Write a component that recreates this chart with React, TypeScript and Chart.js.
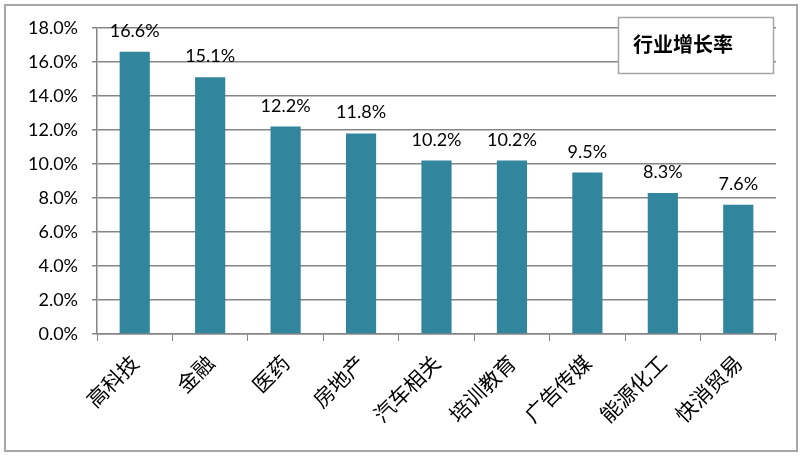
import React, { useEffect, useRef } from "react";
import { Chart, registerables } from "chart.js";

Chart.register(...registerables);

const categories = ["高科技", "金融", "医药", "房地产", "汽车相关", "培训教育", "广告传媒", "能源化工", "快消贸易"];
const growthRates = [16.6, 15.1, 12.2, 11.8, 10.2, 10.2, 9.5, 8.3, 7.6];
const seriesName = "行业增长率";
const yMin = 0;
const yMax = 18;
const yStep = 2;

const BAR_COLOR = "#31859C";
const AXIS_COLOR = "#868686";

const decorPlugin = {
  id: "decor",
  afterDatasetsDraw(chart: any) {
    const ctx = chart.ctx;
    const meta = chart.getDatasetMeta(0);
    ctx.save();
    ctx.fillStyle = "#000";
    ctx.font = "18px Lato";
    ctx.textAlign = "center";
    ctx.textBaseline = "alphabetic";
    meta.data.forEach((bar: any, i: number) => {
      const v = chart.data.datasets[0].data[i] as number;
      ctx.fillText(v.toFixed(1) + "%", bar.x, bar.y - 15);
    });
    ctx.restore();
  },
  afterDraw(chart: any) {
    const ctx = chart.ctx;
    ctx.save();
    // legend box
    ctx.fillStyle = "#fff";
    ctx.fillRect(618, 17, 155, 56);
    ctx.strokeStyle = "#a6a6a6";
    ctx.lineWidth = 1.5;
    ctx.strokeRect(618.5, 17.5, 155, 56);
    ctx.fillStyle = "#000";
    ctx.font = "bold 20px 'Noto Sans CJK SC'";
    ctx.textAlign = "left";
    ctx.textBaseline = "middle";
    ctx.fillText(seriesName, 633, 44);
    // outer border
    ctx.strokeStyle = "#a6a6a6";
    ctx.lineWidth = 2;
    ctx.strokeRect(5, 5, 792, 446);
    ctx.restore();
  },
};

export default function App() {
  const ref = useRef<HTMLCanvasElement>(null);
  useEffect(() => {
    document.body.style.margin = "0";
    const chart = new Chart(ref.current!, {
      type: "bar",
      data: {
        labels: categories,
        datasets: [
          {
            label: seriesName,
            data: growthRates,
            backgroundColor: BAR_COLOR,
            borderWidth: 0,
            barPercentage: 0.4,
            categoryPercentage: 1,
          },
        ],
      },
      options: {
        animation: false,
        responsive: false,
        devicePixelRatio: 1,
        layout: { padding: { top: 28, right: 28, bottom: 0, left: 0 } },
        plugins: { legend: { display: false }, tooltip: { enabled: false } },
        scales: {
          x: {
            grid: {
              drawOnChartArea: false,
              drawTicks: true,
              tickLength: 7,
              color: AXIS_COLOR,
              offset: true,
            },
            border: { color: AXIS_COLOR, width: 1.5 },
            ticks: {
              maxRotation: 45,
              minRotation: 45,
              autoSkip: false,
              padding: 9,
              color: "#000",
              font: { family: "'Noto Sans CJK SC'", size: 21 },
            },
            afterFit(scale: any) {
              scale.height = 122;
            },
          },
          y: {
            min: yMin,
            max: yMax,
            grid: { color: AXIS_COLOR, lineWidth: 1.5, tickLength: 5 },
            border: { color: AXIS_COLOR, width: 1.5 },
            ticks: {
              stepSize: yStep,
              padding: 14,
              color: "#000",
              font: { family: "Lato", size: 18 },
              callback: (v: any) => Number(v).toFixed(1) + "%",
            },
            afterFit(scale: any) {
              scale.width = 97;
            },
          },
        },
      },
      plugins: [decorPlugin],
    });
    return () => chart.destroy();
  }, []);
  return (
    <div style={{ width: 804, height: 456 }}>
      <canvas ref={ref} width={804} height={456} />
    </div>
  );
}
